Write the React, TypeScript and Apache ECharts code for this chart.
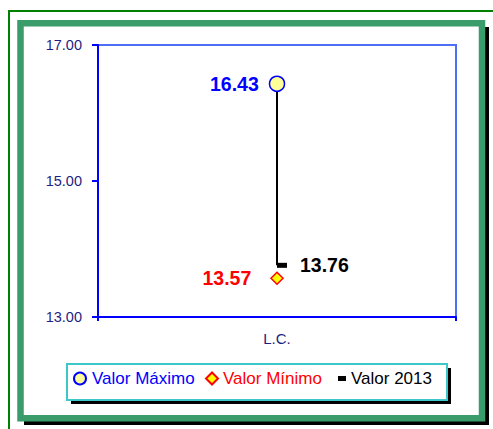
import React, { useEffect, useRef } from "react";
import * as echarts from "echarts";

const categories = ["L.C."];
const maxValues = [16.43];
const minValues = [13.57];
const values2013 = [13.76];
const seriesNames = ["Valor Máximo", "Valor Mínimo", "Valor 2013"];
const yMin = 13;
const yMax = 17;
const yInterval = 2;

const FONT = "'Liberation Sans', Arial, sans-serif";

export default function App() {
  const ref = useRef<HTMLDivElement>(null);
  useEffect(() => {
    if (!ref.current) return;
    const chart = echarts.init(ref.current, null, { renderer: "svg" });
    const lineData: any[] = [];
    categories.forEach((c, i) => {
      lineData.push([c, maxValues[i]]);
      lineData.push([c, values2013[i]]);
      lineData.push(null);
    });
    const option: any = {
      animation: false,
      textStyle: { fontFamily: FONT },
      graphic: [
        { type: "rect", z: -5, silent: true, shape: { x: 9, y: 11, width: 600, height: 600 }, style: { fill: "none", stroke: "#008000", lineWidth: 2 } },
        { type: "rect", z: -5, silent: true, shape: { x: 24, y: 27, width: 465, height: 398 }, style: { fill: "#000" } },
        { type: "rect", z: -5, silent: true, shape: { x: 20.5, y: 23.2, width: 461.5, height: 395 }, style: { fill: "#fff", stroke: "#3A9B6B", lineWidth: 6.5 } },
        { type: "rect", z: 3, silent: true, shape: { x: 71, y: 368, width: 380, height: 36 }, style: { fill: "#000" } },
        { type: "rect", z: 3, silent: true, shape: { x: 67, y: 364, width: 380, height: 36 }, style: { fill: "#fff", stroke: "#3CC8C8", lineWidth: 2 } },
      ],
      grid: {
        left: 98,
        top: 45,
        width: 358,
        height: 272,
        show: true,
        borderColor: "#4D6FF5",
        borderWidth: 2,
        backgroundColor: "transparent",
      },
      xAxis: {
        type: "category",
        data: categories,
        boundaryGap: true,
        axisLine: { lineStyle: { color: "#0000FF", width: 2 } },
        axisTick: { show: true, length: 4, lineStyle: { color: "#0000FF", width: 2 } },
        axisLabel: { color: "#1E1E80", fontSize: 15, margin: 14, fontFamily: FONT },
        splitLine: { show: false },
      },
      yAxis: {
        type: "value",
        min: yMin,
        max: yMax,
        interval: yInterval,
        axisLine: { show: true, lineStyle: { color: "#0000FF", width: 2 } },
        axisTick: { show: true, length: 6, lineStyle: { color: "#0000FF", width: 2 } },
        axisLabel: {
          color: "#1E1E80",
          fontSize: 14.5,
          margin: 16,
          fontFamily: FONT,
          formatter: (v: number) => v.toFixed(2),
        },
        splitLine: { show: false },
      },
      legend: [
        {
          left: 73, top: 370, padding: 0, itemWidth: 14, itemHeight: 12,
          data: [seriesNames[0]],
          textStyle: { color: "#0000FF", fontSize: 17, fontFamily: FONT },
        },
        {
          left: 205, top: 370, padding: 0, itemWidth: 12, itemHeight: 12,
          data: [seriesNames[1]],
          textStyle: { color: "#FF0000", fontSize: 17, fontFamily: FONT },
        },
        {
          left: 338, top: 370, padding: 0, itemWidth: 8, itemHeight: 5,
          data: [{ name: seriesNames[2], icon: "rect" }],
          textStyle: { color: "#000", fontSize: 17, fontFamily: FONT },
        },
      ],
      series: [
        {
          name: "range",
          type: "line",
          data: lineData,
          showSymbol: false,
          lineStyle: { color: "#000", width: 2 },
          z: 1,
          silent: true,
        },
        {
          name: seriesNames[0],
          type: "scatter",
          data: maxValues,
          symbol: "circle",
          symbolSize: 15,
          itemStyle: { color: "#FFFF99", borderColor: "#0000FF", borderWidth: 1.5, opacity: 1 },
          label: {
            show: true, position: "left", distance: 10,
            formatter: (p: any) => Number(p.value).toFixed(2),
            color: "#0000FF", fontWeight: "bold", fontSize: 19.5, fontFamily: FONT,
          },
          z: 3,
        },
        {
          name: seriesNames[1],
          type: "scatter",
          data: minValues,
          symbol: "diamond",
          symbolSize: 12,
          itemStyle: { color: "#FFFF00", borderColor: "#FF0000", borderWidth: 1.5, opacity: 1 },
          label: {
            show: true, position: "left", distance: 19,
            formatter: (p: any) => Number(p.value).toFixed(2),
            color: "#FF0000", fontWeight: "bold", fontSize: 19.5, fontFamily: FONT,
          },
          z: 3,
        },
        {
          name: seriesNames[2],
          type: "scatter",
          data: values2013,
          symbol: "rect",
          symbolSize: [10, 5],
          symbolOffset: [5, 0],
          itemStyle: { color: "#000", opacity: 1 },
          label: {
            show: true, position: "right", distance: 13,
            formatter: (p: any) => Number(p.value).toFixed(2),
            color: "#000", fontWeight: "bold", fontSize: 19.5, fontFamily: FONT,
          },
          z: 3,
        },
      ],
    };
    chart.setOption(option);
    return () => chart.dispose();
  }, []);
  return (
    <div
      ref={ref}
      style={{ position: "absolute", left: 0, top: 0, width: 493, height: 429 }}
    />
  );
}
